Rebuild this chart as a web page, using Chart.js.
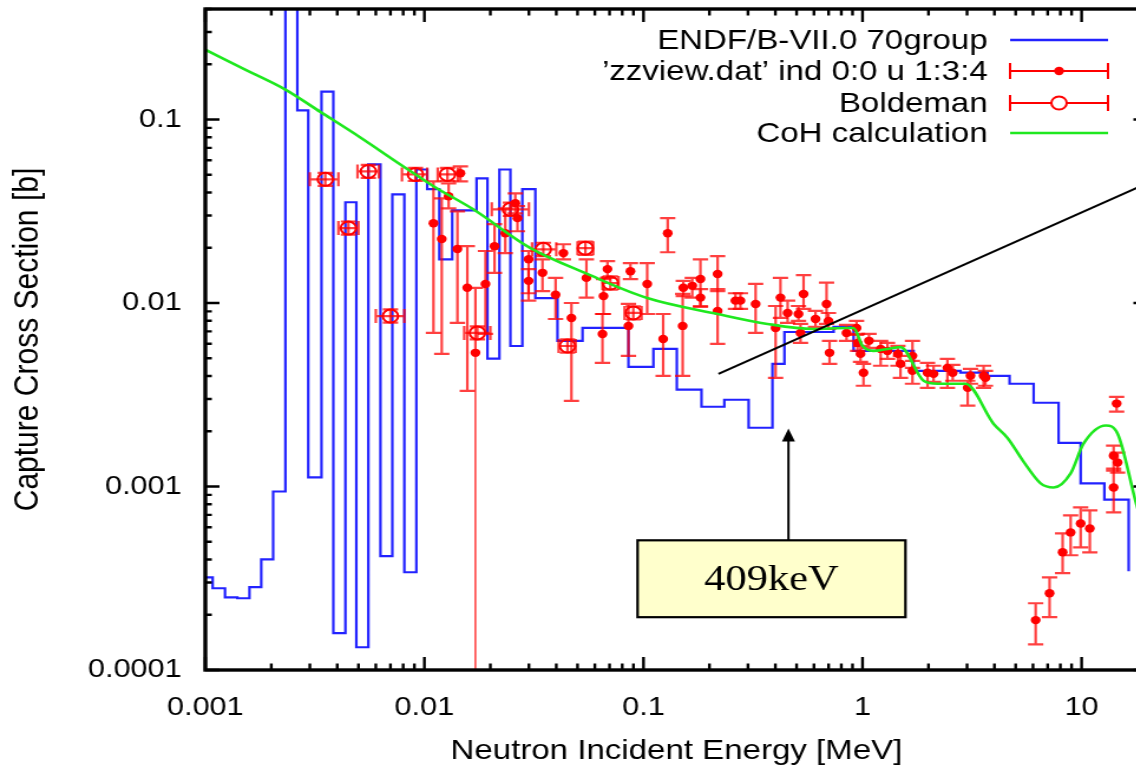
<!DOCTYPE html>
<html>
<head>
<meta charset="utf-8">
<script src="https://cdn.jsdelivr.net/npm/chart.js@4.4.0/dist/chart.umd.min.js"></script>
<style>
html, body { margin: 0; padding: 0; background: #fff; overflow: hidden; width: 1136px; height: 769px; }
#wrap { position: absolute; left: 0; top: 0; transform: scaleX(1.18); transform-origin: 0 0; }
</style>
</head>
<body>
<div id="wrap"><canvas id="capture" width="981" height="769"></canvas></div>
<script>
// energies in MeV, cross sections in barns

// ENDF/B-VII.0 70 group (left edge of each group)
const endfE = [0.001, 0.00108, 0.00123, 0.0014, 0.00159, 0.0018, 0.00204, 0.00232, 0.00263, 0.00295,
  0.00339, 0.00384, 0.00436, 0.00489, 0.00555, 0.0063, 0.00714, 0.0081, 0.00919, 0.0103,
  0.0117, 0.0134, 0.0173, 0.0194, 0.022, 0.0247, 0.028, 0.0321, 0.0405, 0.0527,
  0.0854, 0.111, 0.142, 0.184, 0.234, 0.302, 0.388, 0.44, 0.738, 0.91,
  1.71, 2.8, 3.72, 4.69, 6.04, 7.85, 9.9, 12.7, 16.4];
const endfXs = [0.00032, 0.000279, 0.000249, 0.000246, 0.000283, 0.000401, 0.000939, 2.0, 0.112, 0.00112,
  0.142, 0.000159, 0.0354, 0.000133, 0.0569, 0.000417, 0.0391, 0.000341, 0.0534, 0.0417,
  0.0173, 0.032, 0.0478, 0.00497, 0.0534, 0.00583, 0.0417, 0.01064, 0.00621, 0.00731,
  0.00449, 0.00562, 0.00337, 0.00272, 0.00297, 0.00209, 0.00466, 0.00695, 0.00741, 0.00548,
  0.00427, 0.00417, 0.00401, 0.00363, 0.00286, 0.00173, 0.00104, 0.000849, 0.000345];

// 'zzview.dat' measurements
const zzE = [0.011, 0.012, 0.0129, 0.01415, 0.0146, 0.0157, 0.0171, 0.019, 0.0209, 0.0234,
  0.026, 0.0266, 0.0299, 0.0299, 0.0346, 0.0397, 0.0431, 0.0469, 0.0549, 0.065,
  0.0657, 0.0685, 0.0854, 0.0872, 0.104, 0.123, 0.129, 0.151, 0.152, 0.167,
  0.182, 0.182, 0.218, 0.218, 0.263, 0.277, 0.325, 0.401, 0.422, 0.455,
  0.51, 0.521, 0.538, 0.61, 0.685, 0.699, 0.707, 0.845, 0.939, 0.949,
  0.979, 1.01, 1.07, 1.21, 1.3, 1.45, 1.49, 1.69, 1.69, 1.98,
  2.11, 2.44, 2.58, 3.02, 3.11, 3.57, 3.64, 6.17, 7.14, 8.19,
  8.91, 9.9, 10.9, 14.0, 14.0, 14.6, 14.45];
const zzXs = [0.0272, 0.0223, 0.0382, 0.0197, 0.0509, 0.0121, 0.00535, 0.0127, 0.0204, 0.024,
  0.035, 0.029, 0.0173, 0.0132, 0.0146, 0.0111, 0.0187, 0.00829, 0.0137, 0.00678,
  0.0109, 0.0153, 0.0075, 0.0149, 0.0127, 0.00637, 0.024, 0.0075, 0.0121, 0.0124,
  0.0135, 0.0107, 0.0144, 0.00905, 0.0103, 0.0103, 0.00988, 0.00731, 0.0107, 0.00882,
  0.00871, 0.00687, 0.0112, 0.00818, 0.00988, 0.00798, 0.00535, 0.00687, 0.00731, 0.00606,
  0.00528, 0.00417, 0.00622, 0.00562, 0.00548, 0.00528, 0.00466, 0.00515, 0.00427, 0.00417,
  0.00411, 0.00443, 0.00417, 0.00345, 0.00401, 0.00401, 0.00391, 0.000187, 0.000262, 0.000438,
  0.000562, 0.000629, 0.000591, 0.000988, 0.00147, 0.00135, 0.00283];
const zzLo = [0.00687, 0.00528, 0.0328, 0.00779, 0.046, 0.00332, 0, 0.00678, 0.0146, 0.0187,
  0.0308, 0.0246, 0.0103, 0.0113, 0.0116, 0.00818, 0.0173, 0.00293, 0.0107, 0.00472,
  0.00871, 0.0137, 0.00515, 0.0135, 0.00871, 0.00401, 0.0189, 0.00401, 0.0109, 0.0107,
  0.00963, 0.00951, 0.0116, 0.00599, 0.00928, 0.00928, 0.00687, 0.00391, 0.00829, 0.00779,
  0.00798, 0.00606, 0.00928, 0.00741, 0.00769, 0.00722, 0.00466, 0.00622, 0.0067, 0.00548,
  0.00478, 0.00354, 0.00569, 0.00455, 0.00496, 0.00455, 0.00391, 0.00443, 0.00363, 0.00345,
  0.00372, 0.00345, 0.00377, 0.00276, 0.00363, 0.00345, 0.00354, 0.000138, 0.000194, 0.000337,
  0.000422, 0.000466, 0.000438, 0.000722, 0.00122, 0.00119, 0.00256];
const zzHi = [0.046, 0.0372, 0.0449, 0.0316, 0.0555, 0.0204, 0.0121, 0.0192, 0.0269, 0.0328,
  0.0396, 0.0337, 0.0192, 0.0153, 0.0173, 0.0137, 0.0209, 0.01, 0.0173, 0.00871,
  0.0135, 0.0169, 0.00988, 0.0165, 0.0165, 0.00871, 0.029, 0.0112, 0.0132, 0.0137,
  0.0173, 0.0119, 0.018, 0.0119, 0.0113, 0.0113, 0.0127, 0.00963, 0.0137, 0.0103,
  0.00963, 0.00769, 0.0142, 0.00905, 0.0129, 0.00882, 0.00622, 0.00759, 0.00798, 0.00678,
  0.00584, 0.00466, 0.00678, 0.00622, 0.00606, 0.00584, 0.00515, 0.00622, 0.00484, 0.00472,
  0.00455, 0.00496, 0.0046, 0.00377, 0.00438, 0.00455, 0.00427, 0.000231, 0.00032, 0.000555,
  0.000696, 0.000769, 0.000741, 0.00125, 0.00167, 0.00153, 0.00308];

// Boldeman
const bolE = [0.00353, 0.0045, 0.00555, 0.007, 0.0091, 0.01274, 0.01746, 0.0247, 0.0349, 0.045, 0.0543, 0.0706, 0.0899];
const bolELo = [0.003, 0.00405, 0.00495, 0.006, 0.0079, 0.0115, 0.0152, 0.0203, 0.031, 0.041, 0.05, 0.065, 0.082];
const bolEHi = [0.00405, 0.005, 0.0062, 0.0081, 0.0103, 0.0142, 0.02, 0.03, 0.04, 0.049, 0.059, 0.077, 0.098];
const bolXs = [0.0472, 0.0256, 0.0521, 0.00849, 0.0502, 0.0502, 0.00687, 0.0324, 0.0196, 0.00583, 0.0199, 0.01285, 0.00883];
const bolLo = [0.0435, 0.0236, 0.048, 0.00782, 0.0462, 0.0462, 0.00633, 0.0298, 0.018, 0.00537, 0.0183, 0.01183, 0.00813];
const bolHi = [0.0512, 0.0278, 0.0566, 0.00922, 0.0545, 0.0545, 0.00746, 0.0352, 0.0213, 0.00633, 0.0216, 0.01395, 0.00959];

// CoH calculation
const cohE = [0.001, 0.00152, 0.00232, 0.00335, 0.0051, 0.00777, 0.011, 0.0167, 0.0305, 0.0554,
  0.104, 0.218, 0.368, 0.597, 0.845, 0.91, 1.0, 1.12, 1.3, 1.49,
  1.9, 2.2, 2.95, 3.96, 4.59, 5.4, 6.5, 7.45, 8.91, 10.2,
  12.9, 14.6, 17.8, 20];
const cohXs = [0.24, 0.187, 0.1455, 0.11, 0.0798, 0.0569, 0.0433, 0.0324, 0.0199, 0.0144,
  0.01065, 0.00871, 0.00769, 0.00722, 0.00731, 0.00731, 0.00584, 0.00548, 0.00562, 0.00575,
  0.00377, 0.00363, 0.00363, 0.0022, 0.00184, 0.00138, 0.00104, 0.000988, 0.00118, 0.00171,
  0.00215, 0.00194, 0.000798, 0.00051];

const seriesLabels = ['ENDF/B-VII.0 70group', '\u2019zzview.dat\u2019 ind 0:0 u 1:3:4', 'Boldeman', 'CoH calculation'];
const xMajor = [0.001, 0.01, 0.1, 1, 10];
const xTickLabels = ['0.001', '0.01', '0.1', '1', '10'];
const yMajor = [0.0001, 0.001, 0.01, 0.1];
const yTickLabels = ['0.0001', '0.001', '0.01', '0.1'];
const xTitle = 'Neutron Incident Energy [MeV]';
const yTitle = 'Capture Cross Section [b]';

// annotation: box, arrow to 409 keV and the pointer line
const noteText = '409keV';
const noteBoxE = [0.094, 1.57];
const noteBoxXs = [0.000194, 0.000509];
const arrowE = 0.459;
const arrowTipXs = 0.00207;
const pointerFrom = [0.22, 0.00411];
const pointerTo = [20, 0.045];

const X_MIN = 0.001, X_MAX = 20, Y_MIN = 0.0001, Y_MAX = 0.4;
const RED = '#ff0000';
const SANS = '"Liberation Sans", Arial, Helvetica, sans-serif';

function logTicks(majors, max) {
  const out = [];
  majors.forEach(m => {
    for (let k = 1; k <= 9; k++) {
      const v = k * m;
      if (v <= max * 1.0001) out.push(v);
    }
  });
  if (out[out.length - 1] < max) out.push(max);
  return out;
}

function labelFor(v, majors, labels) {
  const i = majors.findIndex(m => Math.abs(v / m - 1) < 1e-6);
  return i < 0 ? '' : labels[i];
}

const pts = (xs, ys) => xs.map((x, i) => ({ x: x, y: ys[i] }));

//
// plugins
//
const errorBars = {
  id: 'errorBars',
  beforeDatasetDraw(chart, args) {
    const ds = chart.data.datasets[args.index];
    if (!ds.yLo) return;
    const { ctx, chartArea: a } = chart;
    const xs = chart.scales.x, ys = chart.scales.y;
    ctx.save();
    ctx.beginPath();
    ctx.rect(a.left, a.top, a.right - a.left, a.bottom - a.top);
    ctx.clip();
    ctx.strokeStyle = 'rgba(255,0,0,0.75)';
    ctx.lineWidth = 2.2;
    ds.data.forEach((p, i) => {
      const px = xs.getPixelForValue(p.x);
      const py = ys.getPixelForValue(p.y);
      const top = ys.getPixelForValue(ds.yHi[i]);
      const lo = ds.yLo[i];
      ctx.beginPath();
      ctx.moveTo(px - 6.5, top); ctx.lineTo(px + 6.5, top);
      if (lo > 0) {
        const bot = ys.getPixelForValue(lo);
        ctx.moveTo(px, top); ctx.lineTo(px, bot);
        ctx.moveTo(px - 6.5, bot); ctx.lineTo(px + 6.5, bot);
        ctx.stroke();
      } else {
        // lower bound at zero: runs off the log axis
        ctx.moveTo(px, top); ctx.lineTo(px, py);
        ctx.stroke();
        ctx.save();
        ctx.lineWidth = 1.2;
        ctx.strokeStyle = RED;
        ctx.beginPath(); ctx.moveTo(px, py); ctx.lineTo(px, a.bottom); ctx.stroke();
        ctx.restore();
      }
      if (ds.xLo) {
        const l = xs.getPixelForValue(ds.xLo[i]), r = xs.getPixelForValue(ds.xHi[i]);
        ctx.beginPath();
        ctx.moveTo(l, py); ctx.lineTo(r, py);
        ctx.moveTo(l, py - 7); ctx.lineTo(l, py + 7);
        ctx.moveTo(r, py - 7); ctx.lineTo(r, py + 7);
        ctx.stroke();
      }
    });
    ctx.restore();
  }
};

const note = {
  id: 'note',
  afterDatasetsDraw(chart) {
    const { ctx, chartArea: a } = chart;
    const X = v => chart.scales.x.getPixelForValue(v);
    const Y = v => chart.scales.y.getPixelForValue(v);
    ctx.save();
    ctx.beginPath();
    ctx.rect(a.left, a.top, a.right - a.left, a.bottom - a.top);
    ctx.clip();
    ctx.strokeStyle = '#000';
    ctx.fillStyle = '#000';
    ctx.lineWidth = 2.2;
    ctx.beginPath();
    ctx.moveTo(X(pointerFrom[0]), Y(pointerFrom[1]));
    ctx.lineTo(X(pointerTo[0]), Y(pointerTo[1]));
    ctx.stroke();

    const ax = X(arrowE), tip = Y(arrowTipXs);
    ctx.lineWidth = 2;
    ctx.beginPath(); ctx.moveTo(ax, Y(noteBoxXs[1])); ctx.lineTo(ax, tip + 10); ctx.stroke();
    ctx.beginPath();
    ctx.moveTo(ax, tip); ctx.lineTo(ax - 5.5, tip + 13); ctx.lineTo(ax + 5.5, tip + 13);
    ctx.closePath(); ctx.fill();

    const x0 = X(noteBoxE[0]), x1 = X(noteBoxE[1]);
    const y0 = Y(noteBoxXs[1]), y1 = Y(noteBoxXs[0]);
    ctx.fillStyle = '#ffffcc';
    ctx.fillRect(x0, y0, x1 - x0, y1 - y0);
    ctx.lineWidth = 2.2;
    ctx.strokeRect(x0, y0, x1 - x0, y1 - y0);
    ctx.fillStyle = '#000';
    ctx.font = '36px "Liberation Serif", "Times New Roman", serif';
    ctx.textAlign = 'center';
    ctx.textBaseline = 'middle';
    ctx.fillText(noteText, (x0 + x1) / 2, (y0 + y1) / 2 + 2);
    ctx.restore();
  }
};

const frame = {
  id: 'frame',
  afterDatasetsDraw(chart) {
    const { ctx, chartArea: a } = chart;
    const xs = chart.scales.x, ys = chart.scales.y;
    ctx.save();
    ctx.strokeStyle = '#000';
    ctx.lineWidth = 2.4;
    ctx.beginPath();
    xs.ticks.forEach(t => {
      const px = xs.getPixelForValue(t.value);
      const len = labelFor(t.value, xMajor, xTickLabels) ? 13 : 6.5;
      ctx.moveTo(px, a.bottom); ctx.lineTo(px, a.bottom - len);
      ctx.moveTo(px, a.top); ctx.lineTo(px, a.top + len);
    });
    ys.ticks.forEach(t => {
      const py = ys.getPixelForValue(t.value);
      const len = labelFor(t.value, yMajor, yTickLabels) ? 12 : 5.5;
      ctx.moveTo(a.left, py); ctx.lineTo(a.left + len, py);
      ctx.moveTo(a.right, py); ctx.lineTo(a.right - len, py);
    });
    ctx.stroke();
    ctx.lineWidth = 3.4;
    ctx.strokeRect(a.left, a.top, a.right - a.left, a.bottom - a.top);
    ctx.restore();
  }
};

const keyBox = {
  id: 'keyBox',
  afterDraw(chart) {
    const ctx = chart.ctx;
    const rowY = [40, 71, 103, 133];
    const textRight = 837, s0 = 856, s1 = 939, mid = (s0 + s1) / 2;
    ctx.save();
    ctx.font = '28px ' + SANS;
    ctx.textAlign = 'right';
    ctx.textBaseline = 'middle';
    chart.data.datasets.forEach((ds, i) => {
      const y = rowY[i];
      ctx.fillStyle = '#000';
      ctx.fillText(ds.label, textRight, y + 1);
      ctx.beginPath();
      if (ds.yLo) {
        ctx.strokeStyle = RED;
        ctx.lineWidth = 2;
        ctx.moveTo(s0, y); ctx.lineTo(s1, y);
        ctx.moveTo(s0, y - 8); ctx.lineTo(s0, y + 8);
        ctx.moveTo(s1, y - 8); ctx.lineTo(s1, y + 8);
        ctx.stroke();
        ctx.beginPath();
        ctx.arc(mid, y, ds.pointRadius, 0, Math.PI * 2);
        if (ds.xLo) {
          ctx.fillStyle = '#fff';
          ctx.fill();
          ctx.stroke();
        } else {
          ctx.fillStyle = RED;
          ctx.fill();
        }
      } else {
        ctx.strokeStyle = ds.borderColor;
        ctx.lineWidth = 2.6;
        ctx.moveTo(s0, y); ctx.lineTo(s1, y);
        ctx.stroke();
      }
    });
    ctx.restore();
  }
};

//
// chart
//
Chart.defaults.font.family = SANS;
Chart.defaults.color = '#000';

new Chart(document.getElementById('capture'), {
  type: 'line',
  data: {
    datasets: [
      {
        label: seriesLabels[0],
        data: pts(endfE, endfXs),
        stepped: 'before',
        borderColor: '#2222ff',
        borderWidth: 2.2,
        pointRadius: 0,
        fill: false,
        order: 4
      },
      {
        label: seriesLabels[1],
        data: pts(zzE, zzXs),
        yLo: zzLo,
        yHi: zzHi,
        showLine: false,
        pointRadius: 4.2,
        pointBackgroundColor: RED,
        pointBorderWidth: 0,
        order: 3
      },
      {
        label: seriesLabels[2],
        data: pts(bolE, bolXs),
        yLo: bolLo,
        yHi: bolHi,
        xLo: bolELo,
        xHi: bolEHi,
        showLine: false,
        pointRadius: 6.5,
        pointBackgroundColor: 'rgba(0,0,0,0)',
        pointBorderColor: RED,
        pointBorderWidth: 2,
        order: 2
      },
      {
        label: seriesLabels[3],
        data: pts(cohE, cohXs),
        borderColor: '#1fe81f',
        borderWidth: 2.6,
        pointRadius: 0,
        cubicInterpolationMode: 'monotone',
        fill: false,
        order: 1
      }
    ]
  },
  options: {
    responsive: false,
    animation: false,
    events: [],
    layout: { padding: { left: 0, top: 9, right: 4, bottom: 0 } },
    plugins: { legend: { display: false }, tooltip: { enabled: false } },
    scales: {
      x: {
        type: 'logarithmic',
        min: X_MIN,
        max: X_MAX,
        afterBuildTicks: s => { s.ticks = logTicks(xMajor, X_MAX).map(v => ({ value: v })); },
        afterFit: s => { s.height = 99; s.paddingLeft = 0; s.paddingRight = 0; },
        grid: { display: false, drawTicks: false },
        border: { display: false },
        ticks: {
          autoSkip: false,
          maxRotation: 0,
          padding: 22,
          color: '#000',
          font: { size: 26 },
          callback: v => labelFor(v, xMajor, xTickLabels)
        },
        title: { display: true, text: xTitle, color: '#000', font: { size: 28 }, padding: { top: 0, bottom: 1 } }
      },
      y: {
        type: 'logarithmic',
        min: Y_MIN,
        max: Y_MAX,
        afterBuildTicks: s => { s.ticks = logTicks(yMajor, Y_MAX).map(v => ({ value: v })); },
        afterFit: s => { s.width = 174; s.paddingTop = 0; s.paddingBottom = 0; },
        grid: { display: false, drawTicks: false },
        border: { display: false },
        ticks: {
          autoSkip: false,
          padding: 20,
          color: '#000',
          font: { size: 26 },
          callback: v => labelFor(v, yMajor, yTickLabels)
        },
        title: { display: true, text: yTitle, color: '#000', font: { size: 30 }, padding: { top: 6, bottom: 0 } }
      }
    }
  },
  plugins: [errorBars, note, frame, keyBox]
});
</script>
</body>
</html>
